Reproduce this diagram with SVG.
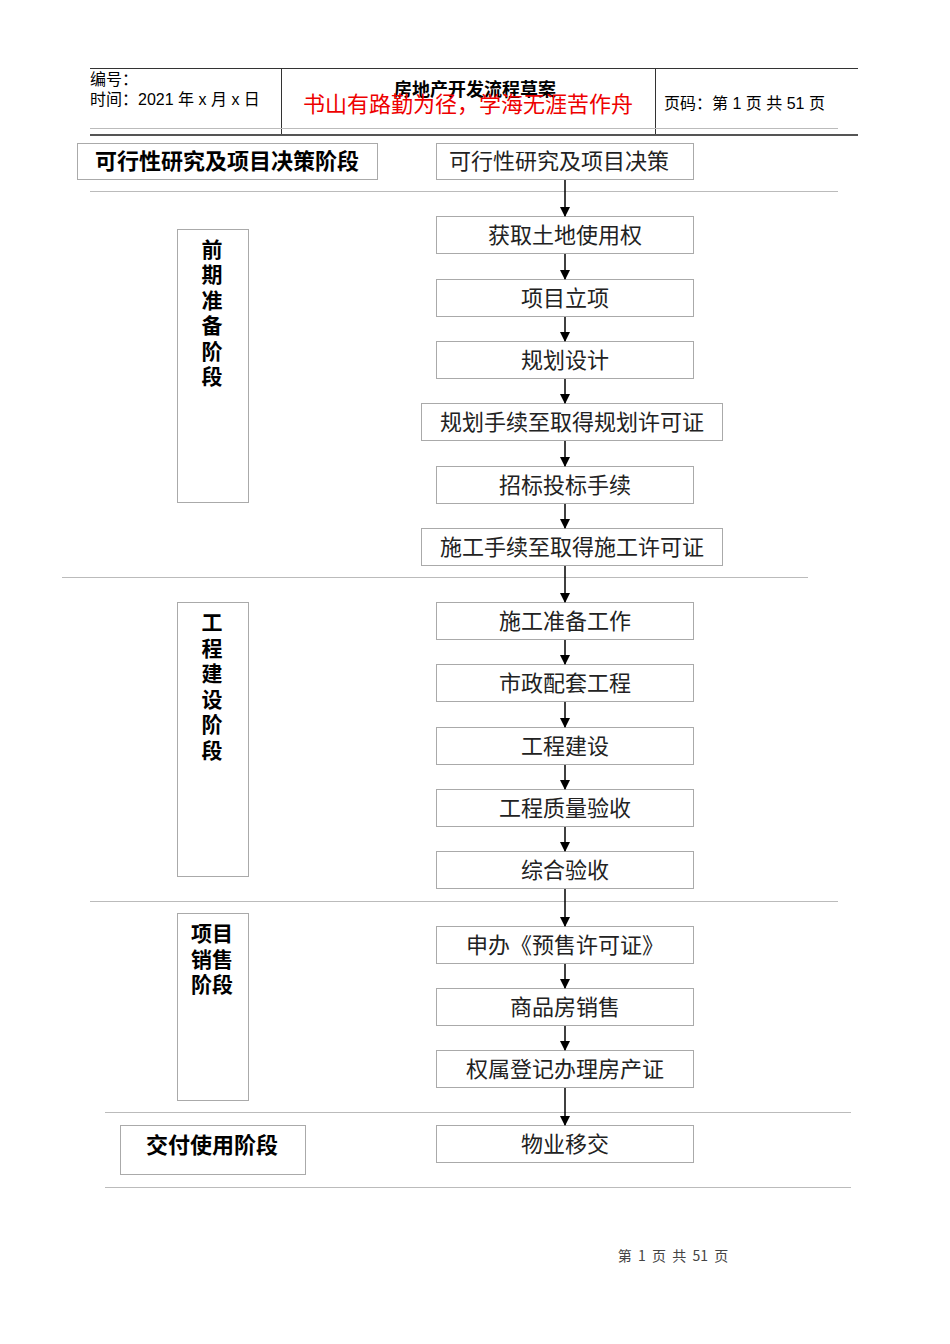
<svg xmlns="http://www.w3.org/2000/svg" width="950" height="1344" viewBox="0 0 950 1344">
<style>
.bg{fill:#fff}
.hl{stroke:#333;stroke-width:1;fill:none}
.hk{stroke:#555;stroke-width:2;fill:none}
.sep{stroke:#bbb;stroke-width:1;fill:none}
.box{fill:#fff;stroke:#aaa;stroke-width:1}
.t{font-family:"Noto Sans CJK SC","Liberation Sans",sans-serif;font-size:22px;fill:#222;text-anchor:middle}
.b{font-family:"Noto Sans CJK SC","Liberation Sans",sans-serif;font-size:22px;font-weight:bold;fill:#000;text-anchor:middle}
.v{font-family:"Noto Sans CJK SC","Liberation Sans",sans-serif;font-size:21px;font-weight:bold;fill:#000;text-anchor:middle}
.h{font-family:"Liberation Sans","Noto Sans CJK SC",sans-serif;font-size:16px;fill:#000}
.con{stroke:#000;stroke-width:1.5;fill:none}
</style>
<defs>
<marker id="ah" markerWidth="10" markerHeight="10" refX="9" refY="5" orient="auto" markerUnits="userSpaceOnUse">
<path d="M0,0 L10,5 L0,10 Z" fill="#000"/>
</marker>
</defs>
<rect class="bg" x="0" y="0" width="950" height="1344"/>

<g id="header">
<line class="hl" x1="90" y1="68.5" x2="858" y2="68.5"/>
<line class="hl" x1="281.5" y1="68" x2="281.5" y2="135"/>
<line class="hl" x1="655.5" y1="68" x2="655.5" y2="135"/>
<line class="sep" x1="90" y1="128.5" x2="838" y2="128.5"/>
<line class="hk" x1="90" y1="135" x2="858" y2="135"/>
<text class="h" x="90" y="85">编号：</text>
<text class="h" x="90" y="105">时间：2021 年 x 月 x 日</text>
<text x="475" y="96" text-anchor="middle" font-family="Noto Sans CJK SC, sans-serif" font-size="18" font-weight="bold" fill="#000">房地产开发流程草案</text>
<text x="468" y="112" text-anchor="middle" font-family="Noto Sans CJK SC, sans-serif" font-size="22" fill="#e00">书山有路勤为径，学海无涯苦作舟</text>
<text class="h" x="664" y="109" font-size="15">页码：第 1 页  共 51 页</text>
</g>

<g id="separators">
<line class="sep" x1="90" y1="191.5" x2="838" y2="191.5"/>
<line class="sep" x1="62" y1="577.5" x2="808" y2="577.5"/>
<line class="sep" x1="90" y1="901.5" x2="838" y2="901.5"/>
<line class="sep" x1="105" y1="1112.5" x2="851" y2="1112.5"/>
<line class="sep" x1="105" y1="1187.5" x2="851" y2="1187.5"/>
</g>

<g id="stage1"><rect class="box" x="77.5" y="143.5" width="300" height="36"/><text class="b" x="227" y="169">可行性研究及项目决策阶段</text></g>
<g id="stage2"><rect class="box" x="177.5" y="229.5" width="71" height="273"/>
<text class="v" x="212" y="257"><tspan x="212">前</tspan><tspan x="212" dy="25.4">期</tspan><tspan x="212" dy="25.4">准</tspan><tspan x="212" dy="25.4">备</tspan><tspan x="212" dy="25.4">阶</tspan><tspan x="212" dy="25.4">段</tspan></text></g>
<g id="stage3"><rect class="box" x="177.5" y="602.5" width="71" height="274"/>
<text class="v" x="212" y="630"><tspan x="212">工</tspan><tspan x="212" dy="25.6">程</tspan><tspan x="212" dy="25.6">建</tspan><tspan x="212" dy="25.6">设</tspan><tspan x="212" dy="25.6">阶</tspan><tspan x="212" dy="25.6">段</tspan></text></g>
<g id="stage4"><rect class="box" x="177.5" y="913.5" width="71" height="187"/>
<text class="v" x="212" y="941"><tspan x="212">项目</tspan><tspan x="212" dy="25.5">销售</tspan><tspan x="212" dy="25.5">阶段</tspan></text></g>
<g id="stage5"><rect class="box" x="120.5" y="1125.5" width="185" height="49"/><text class="b" x="212" y="1153">交付使用阶段</text></g>

<g id="n1"><rect class="box" x="436.5" y="143.5" width="257" height="36"/><text class="t" x="559" y="169">可行性研究及项目决策</text></g>
<g id="n2"><rect class="box" x="436.5" y="216.5" width="257" height="37"/><text class="t" x="565" y="243">获取土地使用权</text></g>
<g id="n3"><rect class="box" x="436.5" y="279.5" width="257" height="37"/><text class="t" x="565" y="306">项目立项</text></g>
<g id="n4"><rect class="box" x="436.5" y="341.5" width="257" height="37"/><text class="t" x="565" y="368">规划设计</text></g>
<g id="n5"><rect class="box" x="421.5" y="403.5" width="301" height="37"/><text class="t" x="572" y="430">规划手续至取得规划许可证</text></g>
<g id="n6"><rect class="box" x="436.5" y="466.5" width="257" height="37"/><text class="t" x="565" y="493">招标投标手续</text></g>
<g id="n7"><rect class="box" x="421.5" y="528.5" width="301" height="37"/><text class="t" x="572" y="555">施工手续至取得施工许可证</text></g>
<g id="n8"><rect class="box" x="436.5" y="602.5" width="257" height="37"/><text class="t" x="565" y="629">施工准备工作</text></g>
<g id="n9"><rect class="box" x="436.5" y="664.5" width="257" height="37"/><text class="t" x="565" y="691">市政配套工程</text></g>
<g id="n10"><rect class="box" x="436.5" y="727.5" width="257" height="37"/><text class="t" x="565" y="754">工程建设</text></g>
<g id="n11"><rect class="box" x="436.5" y="789.5" width="257" height="37"/><text class="t" x="565" y="816">工程质量验收</text></g>
<g id="n12"><rect class="box" x="436.5" y="851.5" width="257" height="37"/><text class="t" x="565" y="878">综合验收</text></g>
<g id="n13"><rect class="box" x="436.5" y="926.5" width="257" height="37"/><text class="t" x="565" y="953">申办《预售许可证》</text></g>
<g id="n14"><rect class="box" x="436.5" y="988.5" width="257" height="37"/><text class="t" x="565" y="1015">商品房销售</text></g>
<g id="n15"><rect class="box" x="436.5" y="1050.5" width="257" height="37"/><text class="t" x="565" y="1077">权属登记办理房产证</text></g>
<g id="n16"><rect class="box" x="436.5" y="1125.5" width="257" height="37"/><text class="t" x="565" y="1152">物业移交</text></g>

<g id="connectors">
<line class="con" x1="565" y1="180" x2="565" y2="216" marker-end="url(#ah)"/>
<line class="con" x1="565" y1="254" x2="565" y2="279" marker-end="url(#ah)"/>
<line class="con" x1="565" y1="317" x2="565" y2="341" marker-end="url(#ah)"/>
<line class="con" x1="565" y1="379" x2="565" y2="403" marker-end="url(#ah)"/>
<line class="con" x1="565" y1="441" x2="565" y2="466" marker-end="url(#ah)"/>
<line class="con" x1="565" y1="504" x2="565" y2="528" marker-end="url(#ah)"/>
<line class="con" x1="565" y1="566" x2="565" y2="602" marker-end="url(#ah)"/>
<line class="con" x1="565" y1="640" x2="565" y2="664" marker-end="url(#ah)"/>
<line class="con" x1="565" y1="702" x2="565" y2="727" marker-end="url(#ah)"/>
<line class="con" x1="565" y1="765" x2="565" y2="789" marker-end="url(#ah)"/>
<line class="con" x1="565" y1="827" x2="565" y2="851" marker-end="url(#ah)"/>
<line class="con" x1="565" y1="889" x2="565" y2="926" marker-end="url(#ah)"/>
<line class="con" x1="565" y1="964" x2="565" y2="988" marker-end="url(#ah)"/>
<line class="con" x1="565" y1="1026" x2="565" y2="1050" marker-end="url(#ah)"/>
<line class="con" x1="565" y1="1088" x2="565" y2="1125" marker-end="url(#ah)"/>
</g>

<g id="footer"><text x="673" y="1261" text-anchor="middle" font-family="Noto Sans CJK SC, sans-serif" font-size="14" fill="#444" xml:space="preserve">第  1  页  共  51  页</text></g>
</svg>
